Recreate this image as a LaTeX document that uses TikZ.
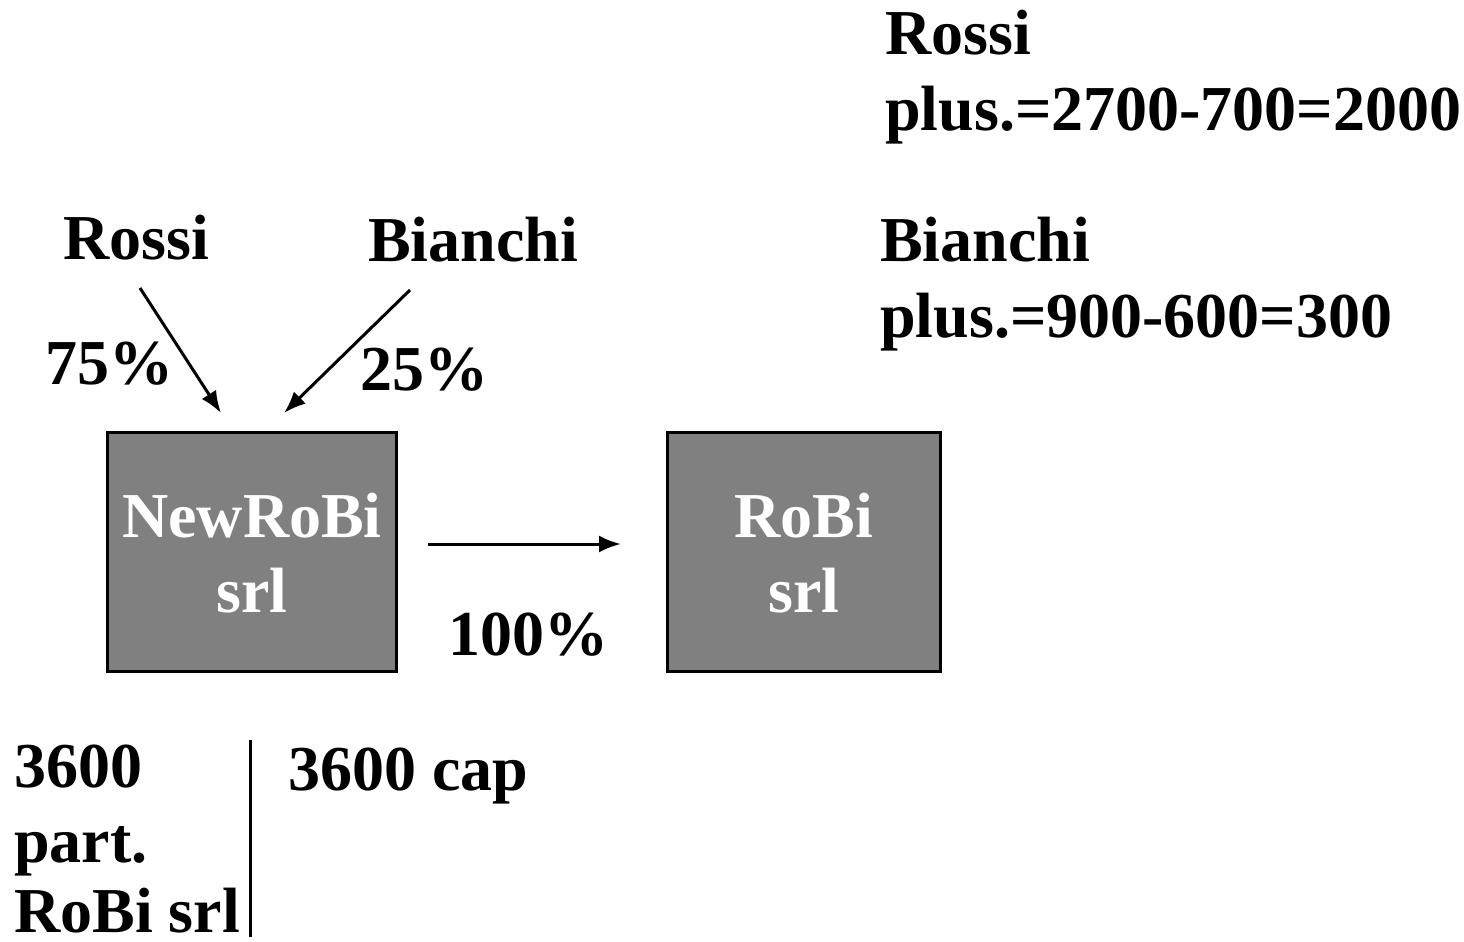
\documentclass[tikz,border=0pt]{standalone}
\usepackage{fontspec}
\setmainfont{Liberation Serif}
\usetikzlibrary{arrows.meta}
\begin{document}
\begin{tikzpicture}[x=1pt,y=-1pt,
  txt/.style={font=\bfseries\fontsize{64}{75}\selectfont, inner sep=0pt, anchor=base west},
  boxtxt/.style={font=\bfseries\fontsize{64}{75}\selectfont, inner sep=0pt, anchor=base, text=white},
  company/.style={draw=black, line width=3pt, fill={rgb,255:red,128;green,128;blue,128}, minimum width=289pt, minimum height=239pt, inner sep=0pt},
  conn/.style={line width=3pt, -{Latex[length=22pt,width=17pt]}}]
\useasboundingbox (0,0) rectangle (1464,942);
% right-hand notes
\node[txt] (rr1) at (885,55) {Rossi};
\node[txt] (rr2) at (885,130) {plus.=2700-700=2000};
\node[txt] (rb1) at (880,261) {Bianchi};
\node[txt] (rb2) at (880,337) {plus.=900-600=300};
% owners
\node[txt] (rossi) at (63,259) {Rossi};
\node[txt] (bianchi) at (368,261) {Bianchi};
\node[txt] (p75) at (45,384) {75\%};
\node[txt] (p25) at (360,390) {25\%};
% boxes
\node[company] (newrobi) at (251.5,551.5) {};
\node[company, minimum width=273pt] (robi) at (803.5,551.5) {};
\node[boxtxt] (nt1) at (252,537) {NewRoBi};
\node[boxtxt] (nt2) at (252,612) {srl};
\node[boxtxt] (rt1) at (804,537) {RoBi};
\node[boxtxt] (rt2) at (804,612) {srl};
% arrows
\coordinate (ra) at (140,288);
\coordinate (rb) at (221,413);
\coordinate (ba) at (410,290);
\coordinate (bb) at (284,413);
\coordinate (ha) at (428,544);
\coordinate (hb) at (621,544);
\draw[conn] (ra) -- (rb);
\draw[conn] (ba) -- (bb);
\draw[conn] (ha) -- (hb);
\node[txt] (p100) at (448,655) {100\%};
% account
\node[txt] (a1) at (14,787) {3600};
\node[txt] (a2) at (14,862) {part.};
\node[txt] (a3) at (14,932) {RoBi srl};
\node[txt] (a4) at (288,790) {3600 cap};
\coordinate (va) at (250,740);
\coordinate (vb) at (250,937);
\draw[line width=3pt] (va) -- (vb);
\end{tikzpicture}
\end{document}
